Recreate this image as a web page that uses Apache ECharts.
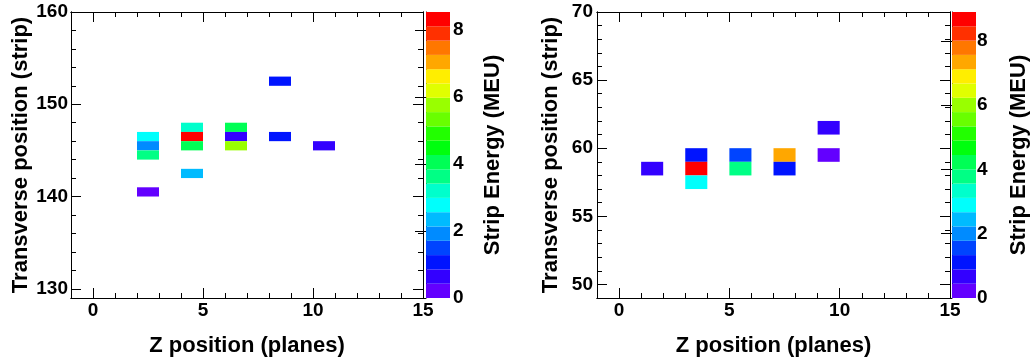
<!DOCTYPE html>
<html><head><meta charset="utf-8">
<script src="https://cdn.jsdelivr.net/npm/echarts@6/dist/echarts.min.js"></script>
<style>html,body{margin:0;padding:0;background:#fff}#c{width:1036px;height:362px}</style>
</head><body><div id="c"></div>
<script>
// ---- data: [Z plane, transverse strip, strip energy (MEU)] ----
const leftCells = [
  [2,146,2.80],[2,145,1.90],[2,144,3.60],[2,140,0.20],
  [4,147,3.20],[4,146,8.53],[4,145,4.05],[4,142,2.35],
  [6,147,4.00],[6,146,0.65],[6,145,5.75],
  [8,152,1.05],[8,146,1.10],
  [10,145,0.60]
];
const rightCells = [
  [1,58,0.65],
  [3,59,1.10],[3,58,8.90],[3,57,2.90],
  [5,59,1.55],[5,58,3.80],
  [7,59,7.35],[7,58,1.10],
  [9,61,0.65],[9,59,0.20]
];
// ---- tick labels / tick positions ----
const xMajor = [0,5,10,15];
const xMinor = [0,1,2,3,4,5,6,7,8,9,10,11,12,13,14,15];
const leftYMajor = [130,140,150,160];
const leftYMinor = [130,132,134,136,138,140,142,144,146,148,150,152,154,156,158,160];
const rightYMajor = [50,55,60,65,70];
const rightYMinor = [50,51,52,53,54,55,56,57,58,59,60,61,62,63,64,65,66,67,68,69,70];
const zTicks = [0,2,4,6,8];
const xTitle = 'Z position (planes)';
const yTitle = 'Transverse position (strip)';
const zTitle = 'Strip Energy (MEU)';
const palette = ['#6300ff','#3300ff','#0014ff','#0044ff','#008bff','#00bbff','#00fffc','#00ffcc',
  '#00ff85','#00ff55','#00ff0e','#22ff00','#69ff00','#99ff00','#e0ff00','#ffee00',
  '#ffa700','#ff7700','#ff3000','#ff0000'];
const NLEV = palette.length;
const zMaxL = Math.max(...leftCells.map(c => c[2]));
const zMaxR = Math.max(...rightCells.map(c => c[2]));

const FONT = 'Liberation Sans';
const lblStyle = {fontSize:19, fontWeight:'bold', fontFamily:FONT, color:'#000'};
const nameStyle = {fontSize:22, fontWeight:'bold', fontFamily:FONT, color:'#000'};
const black = {color:'#000', width:1};

function ax(kind, grid, pos, min, max, vals, len, label, margin, name, nameGap) {
  const a = {
    type:'value', gridIndex:grid, position:pos, min:min, max:max,
    axisLine:{show:true, onZero:false, lineStyle:black},
    axisTick:{show:true, inside:true, length:len, customValues:vals, lineStyle:black},
    axisLabel:{show:!!label, customValues:vals, margin:margin, ...lblStyle},
    splitLine:{show:false}
  };
  if (name) { a.name = name; a.nameLocation = 'middle'; a.nameGap = nameGap; a.nameTextStyle = nameStyle; }
  return a;
}
function panelAxes(grid, yMin, yMax, yMaj, yMin2, yMargin, yGap) {
  return {
    x: [
      ax('x', grid, 'bottom', -1, 15, xMajor, 10, true, 3, xTitle, 37),
      ax('x', grid, 'bottom', -1, 15, xMinor, 5, false, 3),
      ax('x', grid, 'top', -1, 15, xMajor, 10, false, 3),
      ax('x', grid, 'top', -1, 15, xMinor, 5, false, 3)
    ],
    y: [
      ax('y', grid, 'left', yMin, yMax, yMaj, 10, true, yMargin, yTitle, yGap),
      ax('y', grid, 'left', yMin, yMax, yMin2, 5, false, 3),
      ax('y', grid, 'right', yMin, yMax, yMaj, 10, false, 3),
      ax('y', grid, 'right', yMin, yMax, yMin2, 5, false, 3)
    ]
  };
}
const pL = panelAxes(0, 129, 160, leftYMajor, leftYMinor, 3, 39);
const pR = panelAxes(1, 49, 70, rightYMajor, rightYMinor, 4, 35);

function cbAxes(grid, zmax, margin) {
  return {
    x: {type:'value', gridIndex:grid, min:0, max:1, show:false},
    y: {type:'value', gridIndex:grid, position:'right', min:0, max:zmax,
        axisLine:{show:true, lineStyle:black},
        axisTick:{show:true, inside:true, length:11, customValues:zTicks, lineStyle:black},
        axisLabel:{show:true, customValues:zTicks, margin:margin, padding:[5,0,0,0], ...lblStyle},
        splitLine:{show:false},
        name:zTitle, nameLocation:'middle', nameGap:32, nameTextStyle:nameStyle}
  };
}
const cbL = cbAxes(2, zMaxL, 3);
const cbR = cbAxes(3, zMaxR, 1);

function cellItem(params, api) {
  const x = api.value(0), y = api.value(1);
  const p0 = api.coord([x, y + 1]);
  const p1 = api.coord([x + 1, y]);
  return {type:'rect', shape:{x:p0[0], y:p0[1], width:p1[0]-p0[0], height:p1[1]-p0[1]},
          style:{fill:api.visual('color')}};
}
function bandItem(params, api) {
  const lo = api.value(0), hi = api.value(1);
  const p0 = api.coord([0, hi]);
  const p1 = api.coord([1, lo]);
  return {type:'rect', shape:{x:p0[0], y:p0[1], width:p1[0]-p0[0], height:p1[1]-p0[1]},
          style:{fill:palette[params.dataIndex]}};
}
function bands(zmax) { return palette.map((c, k) => [k * zmax / NLEV, (k + 1) * zmax / NLEV]); }
function pieces(zmax) {
  return palette.map((c, k) => k === NLEV - 1
    ? {gte:k * zmax / NLEV, lte:zmax * 1.0001, color:c}
    : {gte:k * zmax / NLEV, lt:(k + 1) * zmax / NLEV, color:c});
}

const chart = echarts.init(document.getElementById('c'), null, {renderer:'canvas'});
chart.setOption({
  animation:false,
  backgroundColor:'#fff',
  grid:[
    {left:71, top:12, width:352, height:286},
    {left:597, top:12, width:353, height:286},
    {left:426, top:12, width:24, height:286},
    {left:952, top:12, width:24, height:286}
  ],
  xAxis:[...pL.x, ...pR.x, cbL.x, cbR.x],
  yAxis:[...pL.y, ...pR.y, cbL.y, cbR.y],
  visualMap:[
    {type:'piecewise', show:false, seriesIndex:0, dimension:2, pieces:pieces(zMaxL)},
    {type:'piecewise', show:false, seriesIndex:1, dimension:2, pieces:pieces(zMaxR)}
  ],
  series:[
    {type:'custom', xAxisIndex:0, yAxisIndex:0, data:leftCells, renderItem:cellItem, encode:{x:0, y:1}},
    {type:'custom', xAxisIndex:4, yAxisIndex:4, data:rightCells, renderItem:cellItem, encode:{x:0, y:1}},
    {type:'custom', xAxisIndex:8, yAxisIndex:8, data:bands(zMaxL), renderItem:bandItem, encode:{y:[0,1]}, silent:true},
    {type:'custom', xAxisIndex:9, yAxisIndex:9, data:bands(zMaxR), renderItem:bandItem, encode:{y:[0,1]}, silent:true}
  ]
});
</script></body></html>
